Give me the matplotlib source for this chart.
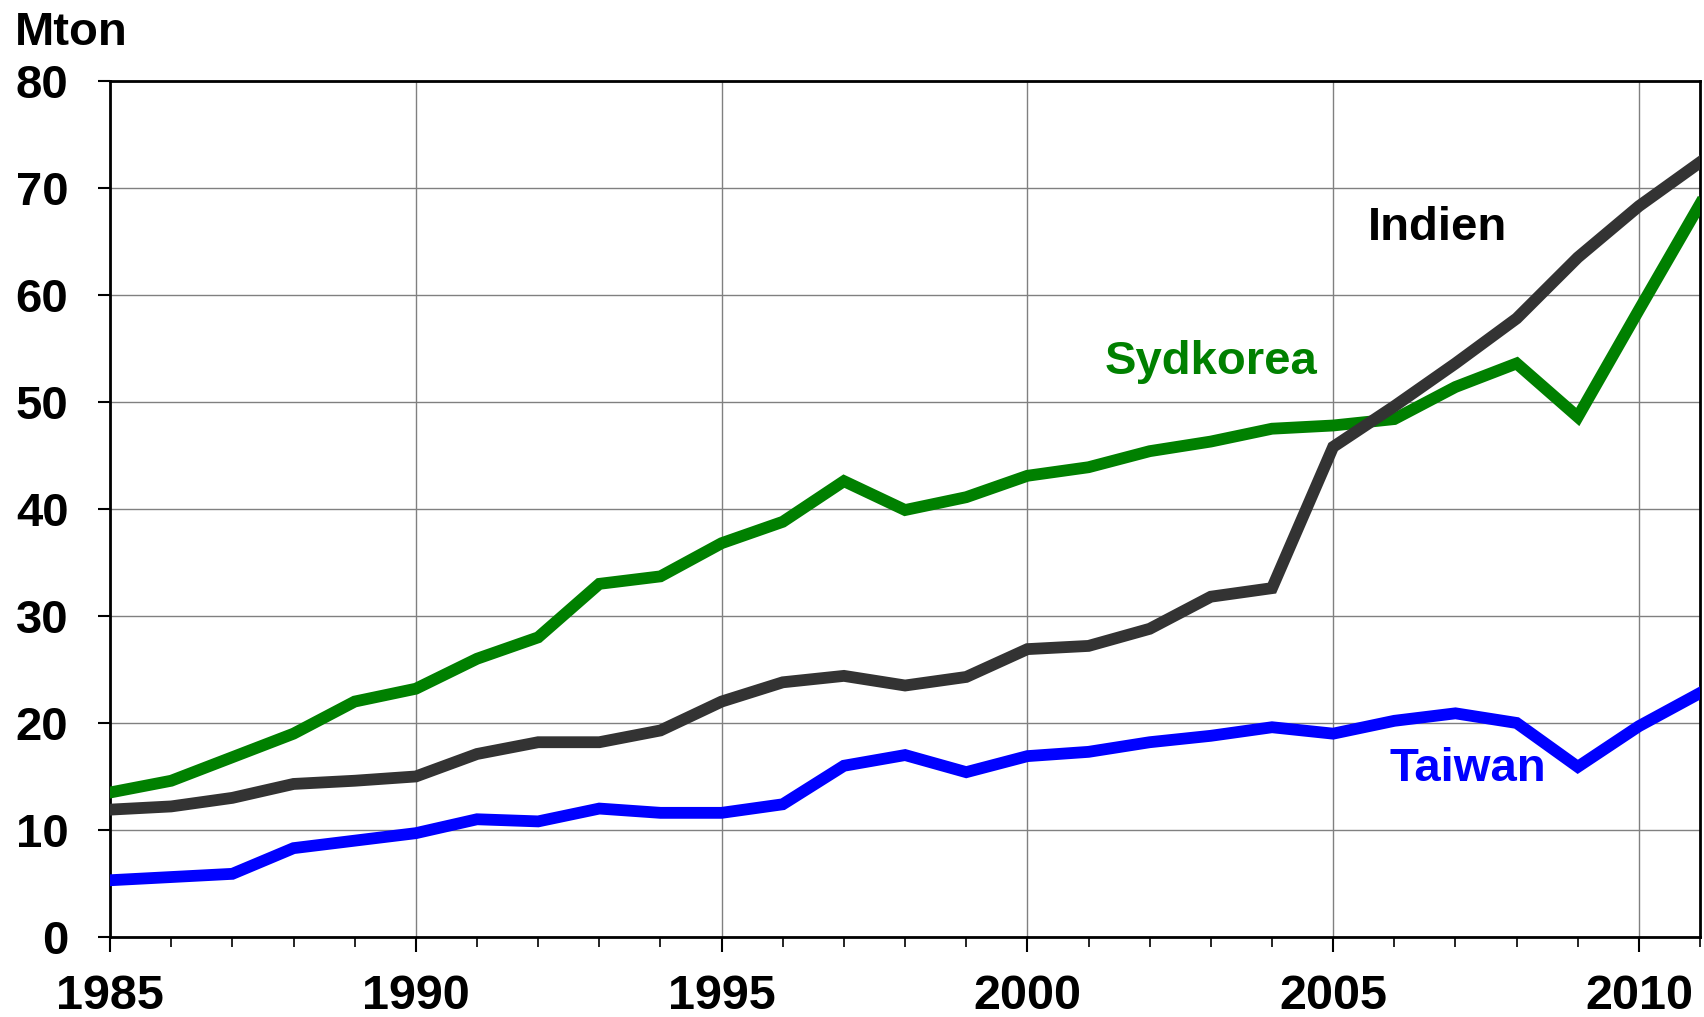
import matplotlib.pyplot as plt
from matplotlib.ticker import MultipleLocator

plt.rcParams['font.family'] = ['Liberation Sans', 'DejaVu Sans']
plt.rcParams['font.weight'] = 'bold'

years = list(range(1985, 2012))
sydkorea = [13.5, 14.6, 16.8, 19.0, 22.0, 23.2, 26.0, 28.0, 33.0, 33.7, 36.8, 38.8, 42.6,
            39.9, 41.1, 43.1, 43.9, 45.4, 46.3, 47.5, 47.8, 48.4, 51.4, 53.6, 48.6, 58.6, 68.5]
indien = [11.9, 12.2, 13.0, 14.3, 14.6, 15.0, 17.1, 18.2, 18.2, 19.3, 22.0, 23.8, 24.4,
          23.5, 24.3, 26.9, 27.2, 28.8, 31.8, 32.6, 45.8, 49.6, 53.6, 57.8, 63.5, 68.3, 72.4]
taiwan = [5.3, 5.6, 5.9, 8.3, 9.0, 9.7, 11.0, 10.8, 12.0, 11.6, 11.6, 12.4, 16.0,
          17.0, 15.4, 16.9, 17.3, 18.2, 18.8, 19.6, 19.0, 20.2, 20.9, 20.0, 15.9, 19.7, 22.8]

fig = plt.figure(figsize=(17.04, 10.17), dpi=100)
ax = fig.add_axes([0.0646, 0.0787, 0.9331, 0.8417])

ax.plot(years, sydkorea, color='#008000', lw=8.5, solid_joinstyle='miter', zorder=3)
ax.plot(years, indien, color='#333333', lw=8.5, solid_joinstyle='miter', zorder=3)
ax.plot(years, taiwan, color='#0000ff', lw=8.5, solid_joinstyle='miter', zorder=3)

ax.set_xlim(1985, 2011)
ax.set_ylim(0, 80)
ax.xaxis.set_major_locator(MultipleLocator(5))
ax.xaxis.set_minor_locator(MultipleLocator(1))
ax.yaxis.set_major_locator(MultipleLocator(10))
ax.grid(True, which='major', color='#808080', lw=1.0)
ax.set_axisbelow(True)

for s in ax.spines.values():
    s.set_linewidth(2)
ax.tick_params(axis='y', which='major', direction='out', length=9, width=1.5,
               labelsize=34, pad=21)
ax.tick_params(axis='x', which='major', direction='out', length=11, width=1.5,
               labelsize=35, pad=16)
ax.tick_params(axis='x', which='minor', direction='out', length=7, width=1.2)
for lab in ax.get_xticklabels() + ax.get_yticklabels():
    lab.set_fontweight('bold')

ax.text(2006.7, 66.3, 'Indien', color='black', fontsize=34, fontweight='bold',
        ha='center', va='center')
ax.text(2003.0, 53.7, 'Sydkorea', color='#008000', fontsize=34, fontweight='bold',
        ha='center', va='center')
ax.text(2007.2, 15.7, 'Taiwan', color='#0000ff', fontsize=34, fontweight='bold',
        ha='center', va='center')

fig.text(0.0088, 0.9558, 'Mton', fontsize=34, fontweight='bold', ha='left', va='baseline')

fig.savefig('out.png', dpi=100)
